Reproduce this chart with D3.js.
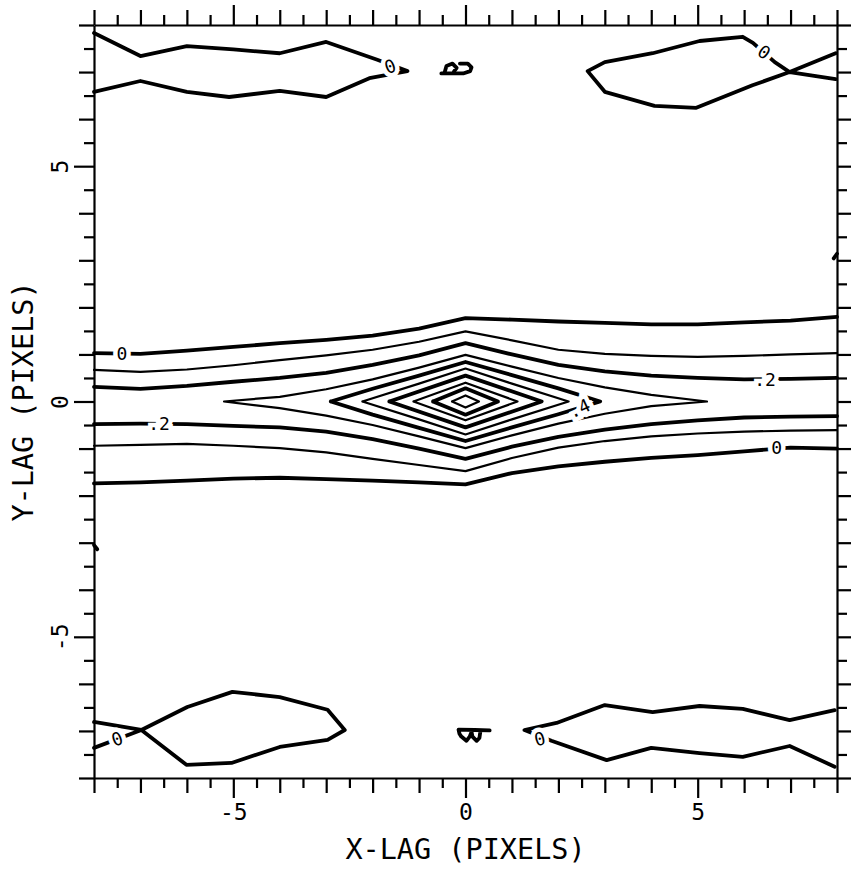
<!DOCTYPE html>
<meta charset="utf-8">
<html>
<head>
<title>X-LAG / Y-LAG correlation contours</title>
<style>
  body { margin: 0; background: #fff; }
  .axis path, .axis line { stroke: #000; stroke-width: 2.2; }
  .axis text { font-family: "DejaVu Sans Mono", monospace; font-size: 23px; fill: #000; }
  .title { font-family: "DejaVu Sans Mono", monospace; font-size: 28.5px; fill: #000; }
  .contour { fill: none; stroke: #000; stroke-linejoin: round; stroke-linecap: round; }
  .clabel { font-family: "DejaVu Sans Mono", monospace; font-size: 18px; fill: #000;
            stroke: #fff; stroke-width: 9px; paint-order: stroke; }
</style>
<script src="https://d3js.org/d3.v7.min.js"></script>
</head>
<body>
<svg width="851" height="869"></svg>

<script>
  // contour levels (thick lines on even tenths)
  var levels = [0, .1, .2, .3, .4, .5, .6, .7, .8, .9];
  var labelTicks = [-5, 0, 5];

  // level 0 pieces, in lag units [x, y]
  var lvl0 = [
    // top-left lobe
    [[-8,7.83],[-7,7.34],[-6,7.55],[-5,7.48],[-4,7.40],[-3,7.64],[-1.9,7.26],[-1.25,7.02],
     [-2.07,6.87],[-3,6.47],[-4,6.60],[-5.09,6.47],[-6,6.58],[-7,6.81],[-8,6.58]],
    // top-right lobe with saddle at the edge
    [[7.97,7.40],[6.98,7.0],[6.18,6.72],[4.97,6.24],[4.07,6.28],[3.0,6.58],[2.63,7.02],
     [3.0,7.21],[4.03,7.40],[5.04,7.66],[5.97,7.75],[6.19,7.62],[6.66,7.21],[6.98,7.0],[7.97,6.85]],
    // bottom-left lobe
    [[-8,-6.81],[-6.98,-6.98],[-6.01,-7.72],[-5.04,-7.68],[-4.0,-7.34],[-2.97,-7.19],[-2.6,-6.98],
     [-2.97,-6.55],[-4.0,-6.28],[-5.02,-6.17],[-5.99,-6.49],[-6.98,-6.98],[-8,-7.36]],
    // bottom-right lobe
    [[7.95,-7.76],[6.98,-7.32],[5.97,-7.55],[5.04,-7.47],[4.0,-7.36],[3.04,-7.62],[1.85,-7.21],
     [1.27,-6.98],[1.96,-6.83],[3.0,-6.45],[4.03,-6.60],[5.04,-6.47],[5.97,-6.53],[6.98,-6.77],[7.95,-6.56]],
    // small scraps near x = 0 and at the side edges
    [[-0.52,6.97],[-0.3,6.97],[-0.05,6.97],[0.1,7.02],[0.13,7.1],[0.05,7.18],[-0.12,7.18]],
    [[-0.45,6.99],[-0.41,7.13],[-0.28,7.18],[-0.19,7.09],[-0.25,7.01]],
    [[0.52,-6.99],[0.2,-6.98],[-0.15,-6.97],[-0.13,-7.06],[-0.09,-7.12],[0.02,-7.21],[0.09,-7.12],
     [0.13,-7.02],[0.15,-7.12],[0.24,-7.21],[0.30,-7.15],[0.32,-7.01]],
    [[7.93,3.04],[8,3.14]],
    [[-8,-3.05],[-7.93,-3.14]],
    // central band
    [[-8,1.03],[-7,1.01],[-6,1.08],[-5,1.16],[-4,1.24],[-3,1.31],[-2,1.40],[-1,1.55],[0,1.77],
     [1,1.74],[2,1.70],[3,1.67],[4,1.64],[5,1.64],[6,1.68],[7,1.72],[8,1.80]],
    [[-8,-1.74],[-7,-1.72],[-6,-1.68],[-5,-1.64],[-4,-1.62],[-3,-1.65],[-2,-1.68],[-1,-1.72],[0,-1.76],
     [1,-1.52],[2,-1.38],[3,-1.28],[4,-1.2],[5,-1.14],[6,-1.06],[7,-0.98],[8,-1.0]]
  ];

  var lvl1 = [
    [[-8,0.67],[-7,0.63],[-6,0.68],[-5,0.77],[-4,0.88],[-3,0.98],[-2,1.10],[-1,1.27],[0,1.49],
     [1,1.30],[2,1.10],[3,1.01],[4,0.97],[5,0.95],[6,0.97],[7,1.0],[8,1.03]],
    [[-8,-0.94],[-7,-0.92],[-6,-0.90],[-5,-0.94],[-4,-0.99],[-3,-1.08],[-2,-1.22],[-1,-1.35],[0,-1.48],
     [1,-1.2],[2,-0.98],[3,-0.84],[4,-0.74],[5,-0.68],[6,-0.64],[7,-0.62],[8,-0.61]]
  ];

  var lvl2 = [
    [[-8,0.31],[-7,0.27],[-6,0.33],[-5,0.42],[-4,0.50],[-3,0.61],[-2,0.78],[-1,0.98],[0,1.24],
     [1,1.0],[2,0.78],[3,0.64],[4,0.55],[5,0.50],[6,0.47],[7,0.48],[8,0.50]],
    [[-8,-0.48],[-7,-0.47],[-6,-0.48],[-5,-0.52],[-4,-0.55],[-3,-0.64],[-2,-0.80],[-1,-1.0],[0,-1.22],
     [1,-0.96],[2,-0.75],[3,-0.6],[4,-0.48],[5,-0.40],[6,-0.34],[7,-0.32],[8,-0.31]]
  ];

  var lvl3 = [[[-5.2,0],[-4,0.1],[-3,0.26],[-2,0.47],[-1,0.72],[0,0.99],[1,0.74],[2,0.5],[3,0.3],[4,0.14],[5.2,0],
               [4,-0.1],[3,-0.26],[2,-0.47],[1,-0.72],[0,-0.99],[-1,-0.74],[-2,-0.5],[-3,-0.3],[-4,-0.14],[-5.2,0]]];
  var lvl4 = [[[-2.9,0],[-2,0.27],[-1,0.55],[0,0.84],[1,0.56],[2,0.28],[2.9,0],
               [2,-0.27],[1,-0.55],[0,-0.84],[-1,-0.56],[-2,-0.28],[-2.9,0]]];
  var lvl5 = [[[-2.22,0],[-1,0.38],[0,0.70],[1,0.38],[2.22,0],[1,-0.38],[0,-0.70],[-1,-0.38],[-2.22,0]]];
  var lvl6 = [[[-1.64,0],[0,0.55],[1.64,0],[0,-0.55],[-1.64,0]]];
  var lvl7 = [[[-1.12,0],[0,0.40],[1.12,0],[0,-0.40],[-1.12,0]]];
  var lvl8 = [[[-0.70,0],[0,0.28],[0.70,0],[0,-0.28],[-0.70,0]]];
  var lvl9 = [[[-0.29,0],[0,0.13],[0.29,0],[0,-0.13],[-0.29,0]]];

  var lines = [lvl0, lvl1, lvl2, lvl3, lvl4, lvl5, lvl6, lvl7, lvl8, lvl9];

  // contour labels: [x, y, text, angle]
  var labelPos = [[-1.62,7.12,"0",-20],[6.43,7.42,"0",35],[-7.5,-7.17,"0",-20],[1.6,-7.17,"0",-15],
                  [-7.4,1.02,"0",0],[6.7,-0.98,"0",0],[-6.6,-0.48,".2",0],[6.45,0.46,".2",0],[2.45,-0.15,".4",-25]];

  var svg = d3.select("svg");

  var x = d3.scaleLinear().domain([-8, 8]).range([94, 837]);
  var y = d3.scaleLinear().domain([-8, 8]).range([778, 25]);

  var ticks = d3.range(-8, 8.01, 0.5);
  function tickLen(d) { return d % 5 === 0 ? 20 : (d % 1 === 0 ? 15 : 10); }
  function fmt(d) { return labelTicks.indexOf(d) >= 0 ? (d < 0 ? "-" + (-d) : d) : ""; }

  // Axes
  var gTop = svg.append("g").attr("class", "axis").attr("transform", "translate(0," + y(8) + ")")
      .call(d3.axisTop(x).tickValues(ticks).tickSizeOuter(0).tickFormat(""));
  gTop.selectAll(".tick line").attr("y2", function(d) { return -tickLen(d); });

  var gBot = svg.append("g").attr("class", "axis").attr("transform", "translate(0," + y(-8) + ")")
      .call(d3.axisBottom(x).tickValues(ticks).tickSizeOuter(0).tickFormat(fmt).tickPadding(8));
  gBot.selectAll(".tick line").attr("y2", function(d) { return tickLen(d); });
  gBot.selectAll(".tick text").attr("y", 26);

  var gLeft = svg.append("g").attr("class", "axis").attr("transform", "translate(" + x(-8) + ",0)")
      .call(d3.axisLeft(y).tickValues(ticks).tickSizeOuter(0).tickFormat(fmt));
  gLeft.selectAll(".tick line").attr("x2", function(d) { return -tickLen(d); });
  gLeft.selectAll(".tick text")
      .attr("transform", "rotate(-90)")
      .attr("x", 0).attr("y", -26).attr("dy", 0)
      .style("text-anchor", "middle");

  var gRight = svg.append("g").attr("class", "axis").attr("transform", "translate(" + x(8) + ",0)")
      .call(d3.axisRight(y).tickValues(ticks).tickSizeOuter(0).tickFormat(""));
  gRight.selectAll(".tick line").attr("x2", function(d) { return tickLen(d); });

  // Contours
  var line = d3.line().x(function(d) { return x(d[0]); }).y(function(d) { return y(d[1]); });

  lines.forEach(function(pieces, i) {
    svg.append("g")
        .selectAll("path")
        .data(pieces)
        .enter().append("path")
          .attr("class", "contour")
          .attr("stroke-width", i % 2 === 0 ? 3.8 : 2.2)
          .attr("d", line);
  });

  svg.append("g")
      .selectAll("text")
      .data(labelPos)
      .enter().append("text")
        .attr("class", "clabel")
        .attr("text-anchor", "middle")
        .attr("dy", "0.35em")
        .attr("transform", function(d) { return "translate(" + x(d[0]) + "," + y(d[1]) + ") rotate(" + d[3] + ")"; })
        .text(function(d) { return d[2]; });

  // Axis titles
  svg.append("text")
      .attr("class", "title")
      .attr("x", x(0))
      .attr("y", 859)
      .attr("text-anchor", "middle")
      .text("X-LAG (PIXELS)");

  svg.append("text")
      .attr("class", "title")
      .attr("transform", "translate(33," + y(0) + ") rotate(-90)")
      .attr("text-anchor", "middle")
      .text("Y-LAG (PIXELS)");
</script>
</body>
</html>
